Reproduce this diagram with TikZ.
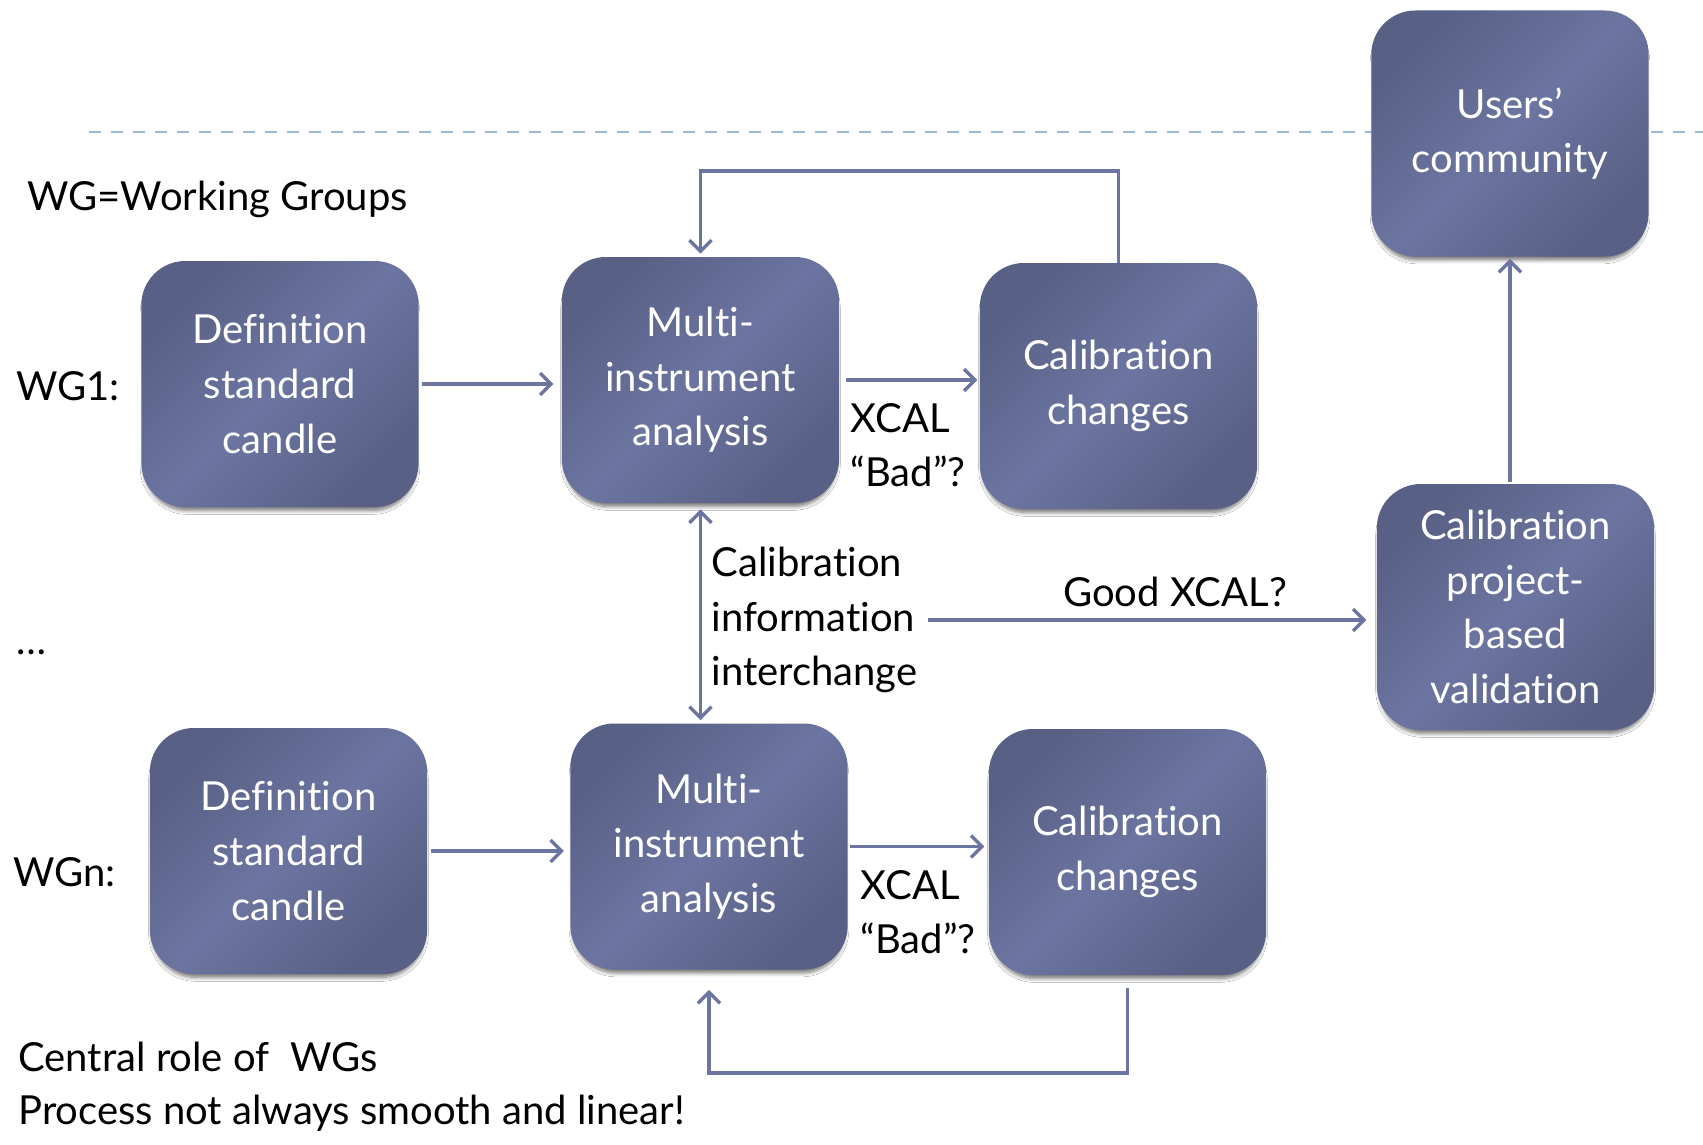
\documentclass[tikz,border=0pt]{standalone}
\usepackage{fontspec}
\setmainfont{Lato}[Ligatures={NoCommon,NoContextual}]
\usetikzlibrary{arrows.meta,shadows.blur}
\definecolor{boxdark}{RGB}{88,96,133}
\definecolor{boxlight}{RGB}{108,117,161}
\definecolor{arrcol}{RGB}{108,116,160}
\definecolor{dashcol}{RGB}{160,186,214}
\begin{document}
\begin{tikzpicture}[x=0.5pt,y=-0.5pt,
  wgbox/.style={rounded corners=22pt, minimum width=135pt, minimum height=123pt,
    text width=132pt, align=center, text=white, font=\fontsize{20}{27.3}\selectfont,
    top color=boxdark, bottom color=boxdark, middle color=boxlight, shading angle=45,
    blur shadow={shadow xshift=0pt, shadow yshift=-3pt, shadow blur radius=2pt, shadow blur steps=6, shadow opacity=55, shadow scale=0.98}},
  arr/.style={draw=arrcol, line width=1.7pt, -{Straight Barb[length=5.5pt,width=11pt]}},
  dbl/.style={draw=arrcol, line width=1.7pt, {Straight Barb[length=5.5pt,width=11pt]}-{Straight Barb[length=5.5pt,width=11pt]}},
  lbl/.style={font=\fontsize{20}{27.3}\selectfont, text=black, inner sep=0pt}]
\useasboundingbox (0,0) rectangle (1703,1145);
\fill[white] (0,0) rectangle (1703,1145);

% dashed separator
\coordinate (dl) at (89,132);
\coordinate (dr) at (1703,132);
\draw[dashcol, line width=1.2pt, dash pattern=on 6pt off 5pt] (dl) -- (dr);

% boxes
\node[wgbox] (def1) at (280,384) {Definition\\standard\\candle};
\node[wgbox] (multi1) at (700.5,380) {Multi-\\instrument\\analysis};
\node[wgbox] (cal1) at (1118.5,386) {Calibration\\changes};
\node[wgbox] (users) at (1510,133.5) {Users’\\community};
\node[wgbox] (cp) at (1515.5,607) {Calibration\\project-\\based\\validation};
\node[wgbox] (def2) at (288.5,851) {Definition\\standard\\candle};
\node[wgbox] (multin) at (709,846.5) {Multi-\\instrument\\analysis};
\node[wgbox] (caln) at (1127.5,852) {Calibration\\changes};

% labels
\node[lbl, anchor=west] (wgdef) at (27,199) {WG=Working Groups};
\node[lbl, anchor=west] (wg1) at (16,386) {WG1:};
\node[lbl, anchor=west] (dots) at (16,652) {…};
\node[lbl, anchor=west] (wgn) at (13,872) {WGn:};
\node[lbl, anchor=west] (central) at (18,1057) {Central role of \ WGs};
\node[lbl, anchor=west] (process) at (18,1113) {Process not always smooth and linear!};
\node[lbl, align=left] (xcal1) at (908,445) {XCAL\\“Bad”?};
\node[lbl, align=left] (xcaln) at (918,912) {XCAL\\“Bad”?};
\node[lbl, align=left, anchor=west] (info) at (711,620) {Calibration\\information\\interchange};
\node[lbl] (good) at (1175,592) {Good XCAL?};

% connectors
\coordinate (top) at (0,171);
\coordinate (bot) at (0,1073);
\draw[arr, shorten <=1.5pt, shorten >=4pt] (def1.east) -- (def1.east -| multi1.west);
\draw[arr, shorten <=3pt, shorten >=1pt] (multi1.east) -- (multi1.east -| cal1.west);
\draw[arr, shorten >=1.5pt] (cal1.north) -- (cal1.north |- top) -| (multi1.north);
\draw[dbl, shorten <=3pt, shorten >=1.5pt] (multi1.south) -- (multi1.south |- multin.north);
\draw[arr, shorten <=5pt, shorten >=5pt] (info.east) -- (info.east -| cp.west);
\draw[arr, shorten <=1pt, shorten >=1pt] (users.south |- cp.north) -- (users.south);
\draw[arr, shorten <=1.5pt, shorten >=3pt] (def2.east) -- (def2.east -| multin.west);
\draw[arr, shorten <=1pt, shorten >=2pt] (multin.east) -- (multin.east -| caln.west);
\draw[arr, shorten <=6.5pt, shorten >=10pt] (caln.south) -- (caln.south |- bot) -| (multin.south);
\end{tikzpicture}
\end{document}
